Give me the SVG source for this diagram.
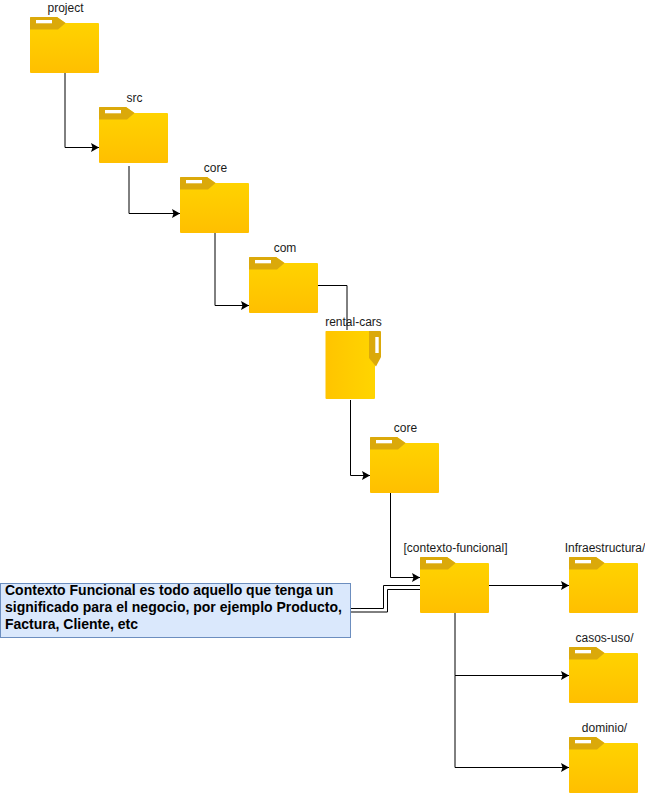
<svg xmlns="http://www.w3.org/2000/svg" width="645" height="794" viewBox="0 0 645 794">
<style>
.lb{font-family:"Liberation Sans",Arial,sans-serif;font-size:12px;fill:#1a1a1a;text-anchor:middle}
.c{fill:none;stroke:#000;stroke-width:1}
.b{font-family:"Liberation Sans",Arial,sans-serif;font-size:14px;font-weight:bold;fill:#000}
</style>
<defs>
<linearGradient id="g" x1="0" y1="0" x2="0" y2="1"><stop offset="0" stop-color="#ffd500"/><stop offset="1" stop-color="#ffbf00"/></linearGradient>
<linearGradient id="g2" x1="0" y1="0" x2="1" y2="0"><stop offset="0" stop-color="#ffc400"/><stop offset="1" stop-color="#ffd500"/></linearGradient>
<marker id="a" viewBox="0 0 8 9" refX="8" refY="4.500" markerWidth="8" markerHeight="9" markerUnits="userSpaceOnUse" orient="auto"><path d="M0 0L8 4.500L0 9L1.500 4.500Z" fill="#000"/></marker>
<g id="f">
<path d="M1 0H27L35.500 6H68Q69 6 69 7V55Q69 56 68 56H1Q0 56 0 55V1Q0 0 1 0Z" fill="url(#g)"/>
<path d="M1 0H27L35.500 6L28 12.500H0V1Q0 0 1 0Z" fill="#dba90a"/>
<rect x="6" y="3" width="16" height="3.300" fill="#fff"/>
</g>
</defs>
<g id="connectors">
<path class="c" d="M65 73V147.500H99" marker-end="url(#a)"/>
<path class="c" d="M129 166V213.500H180" marker-end="url(#a)"/>
<path class="c" d="M215 233V305.500H249" marker-end="url(#a)"/>
<path class="c" d="M318 285.500H347V330"/>
<path class="c" d="M350.500 400V475.500H370" marker-end="url(#a)"/>
<path class="c" d="M390.500 493V577.500H420" marker-end="url(#a)"/>
<path class="c" d="M489 585.500H569" marker-end="url(#a)"/>
<path class="c" d="M455 613V675.500H569" marker-end="url(#a)"/>
<path class="c" d="M455 675.500V767.500H569" marker-end="url(#a)"/>
<path class="c" d="M351 608.500H383.500V585.500H420"/>
<path class="c" d="M351 612H387.500V589.500H420"/>
</g>
<g id="n1"><use href="#f" x="30" y="17"/><text class="lb" x="65.500" y="12">project</text></g>
<g id="n2"><use href="#f" x="99" y="107"/><text class="lb" x="134.500" y="102">src</text></g>
<g id="n3"><use href="#f" x="180" y="177"/><text class="lb" x="215.500" y="172">core</text></g>
<g id="n4"><use href="#f" x="249" y="257"/><text class="lb" x="285" y="252">com</text></g>
<g id="n5">
<path d="M326 331H375V366.500V398Q375 399 374 399H326.500Q325.500 399 325.500 398V332Q325.500 331 326 331Z" fill="url(#g2)"/>
<path d="M369 331H380Q381 331 381 332V357L376 366.500L369 358Z" fill="#dba90a"/>
<rect x="375.300" y="337" width="3.400" height="16" fill="#fff"/>
<text class="lb" x="353.500" y="326">rental-cars</text>
</g>
<g id="n6"><use href="#f" x="370" y="437"/><text class="lb" x="405.500" y="432">core</text></g>
<g id="n7"><use href="#f" x="420" y="557"/><text class="lb" x="455.500" y="552">[contexto-funcional]</text></g>
<g id="n8"><use href="#f" x="569" y="557"/><text class="lb" x="605" y="552">Infraestructura/</text></g>
<g id="n9"><use href="#f" x="569" y="647"/><text class="lb" x="604.500" y="642">casos-uso/</text></g>
<g id="n10"><use href="#f" x="569" y="737"/><text class="lb" x="604.500" y="732">dominio/</text></g>
<g id="note">
<rect x="0.500" y="583.500" width="350" height="54" fill="#dae8fc" stroke="#6c8ebf"/>
<text class="b" x="5" y="595">Contexto Funcional es todo aquello que tenga un</text>
<text class="b" x="5" y="612">significado para el negocio, por ejemplo Producto,</text>
<text class="b" x="5" y="629">Factura, Cliente, etc</text>
</g>
</svg>
